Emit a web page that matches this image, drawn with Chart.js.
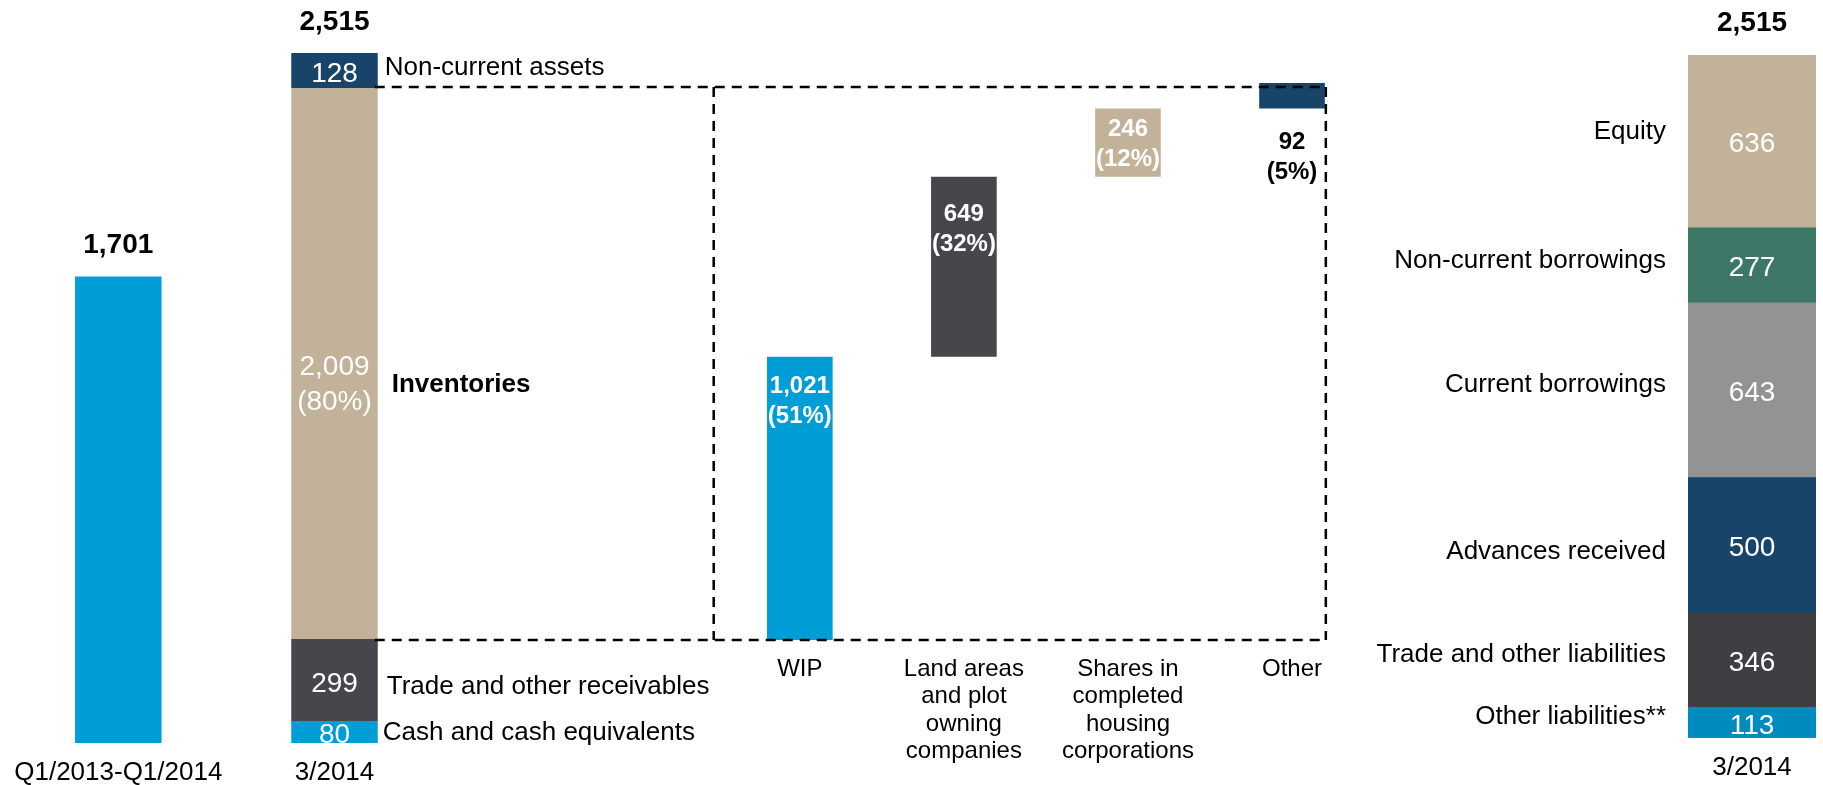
<!DOCTYPE html>
<html>
<head>
<meta charset="utf-8">
<title>Balance sheet 3/2014</title>
<script src="https://cdn.jsdelivr.net/npm/chart.js@4.4.1/dist/chart.umd.min.js"></script>
<style>
  html, body { margin: 0; padding: 0; background: #ffffff; }
  #wrap { position: relative; width: 1823px; height: 785px; overflow: hidden; }
  #wrap canvas { position: absolute; left: 0; top: 0; }
</style>
</head>
<body>
<div id="wrap">
  <canvas id="assets" width="1823" height="785"></canvas>
  <canvas id="inventory" width="1823" height="785"></canvas>
  <canvas id="liabilities" width="1823" height="785"></canvas>
</div>
<script>
// ---------- data (EUR million) ----------
const assetCategories = ['Q1/2013-Q1/2014', '3/2014'];
const periodTotal = [1701];
const assetNames = ['Cash and cash equivalents', 'Trade and other receivables', 'Inventories', 'Non-current assets'];
const assetValues = [80, 299, 2009, 128];
const assetTotal = 2515;

const inventoryCategories = [
  ['WIP'],
  ['Land areas', 'and plot', 'owning', 'companies'],
  ['Shares in', 'completed', 'housing', 'corporations'],
  ['Other']
];
const inventoryValues = [1021, 649, 246, 92];
const inventoryTotal = 2009;

const liabilityCategories = ['3/2014'];
const liabilityNames = ['Other liabilities**', 'Trade and other liabilities', 'Advances received', 'Current borrowings', 'Non-current borrowings', 'Equity'];
const liabilityValues = [113, 346, 500, 643, 277, 636];
const liabilityTotal = 2515;

// ---------- styling ----------
const FONT = '"Liberation Sans", Arial, Helvetica, sans-serif';
const COLORS = {
  blue: '#009dd6',
  tan: '#c2b299',
  navy: '#174468',
  charcoal: '#47464b',
  green: '#3c7767',
  grey: '#939395',
  deepBlue: '#008bbf',
  darkGrey: '#3f3e43'
};
const assetColors = [COLORS.blue, COLORS.charcoal, COLORS.tan, COLORS.navy];
const inventoryColors = [COLORS.blue, COLORS.charcoal, COLORS.tan, COLORS.navy];
const liabilityColors = [COLORS.deepBlue, COLORS.darkGrey, COLORS.navy, COLORS.grey, COLORS.green, COLORS.tan];

// label placement tweaks (pixels)
const assetLabelStyle = [
  { dx: 5,  dy: -1,  valueDy: 0.5, bold: false },
  { dx: 9,  dy: 5,   valueDy: 1.5, bold: false },
  { dx: 14, dy: 19,  valueDy: 18.5, bold: true },
  { dx: 7,  dy: -4.5, valueDy: 1,  bold: false }
];
const inventoryLabelStyle = [
  { mode: 'top', dy: 28, color: '#ffffff' },
  { mode: 'top', dy: 36, color: '#ffffff' },
  { mode: 'center', dy: 0, color: '#ffffff' },
  { mode: 'below', dy: 32, color: '#000000' }
];
const liabilityNameDy = [-8, -8, 4, -8, -7, -12];

const fmt = v => v.toLocaleString('en-US');
const pct = (v, total) => '(' + Math.round(v / total * 100) + '%)';

// text drawn so that y is the vertical centre of capitals / digits
function drawText(ctx, str, x, y, size, bold, color, align) {
  ctx.font = (bold ? 'bold ' : '') + size + 'px ' + FONT;
  ctx.fillStyle = color;
  ctx.textAlign = align;
  ctx.textBaseline = 'alphabetic';
  ctx.fillText(str, x, y + size * 0.358);
}

// the category axis takes the whole strip under the bars so its labels are not clipped
function chartOptions({ padding, axisHeight, yMax, yStacked, tickSize, tickLine, tickGap }) {
  return {
    responsive: false,
    animation: false,
    events: [],
    layout: { padding },
    plugins: { legend: { display: false }, tooltip: { enabled: false } },
    scales: {
      x: {
        stacked: true,
        offset: true,
        grid: { display: false, drawTicks: true, tickLength: tickGap },
        border: { display: false },
        ticks: {
          color: '#000000', padding: 0, autoSkip: false, maxRotation: 0, minRotation: 0,
          font: { family: FONT, size: tickSize, lineHeight: tickLine }
        },
        afterFit(scale) { scale.height = axisHeight; }
      },
      y: { display: false, stacked: yStacked, min: 0, max: yMax }
    }
  };
}

const sum = arr => arr.reduce((a, b) => a + b, 0);

// ---------- assets: period bar + balance sheet bar ----------
const assetLabels = {
  id: 'assetLabels',
  afterDatasetsDraw(chart) {
    const ctx = chart.ctx;
    ctx.save();
    const periodBar = chart.getDatasetMeta(0).data[0];
    drawText(ctx, fmt(periodTotal[0]), periodBar.x, periodBar.y - 34, 28, true, '#000000', 'center');

    assetValues.forEach((v, i) => {
      const el = chart.getDatasetMeta(i + 1).data[1];
      const st = assetLabelStyle[i];
      const cy = (el.y + el.base) / 2;
      const right = el.x + el.width / 2;
      const lines = assetNames[i] === 'Inventories' ? [fmt(v), pct(v, assetTotal)] : [fmt(v)];
      const gap = 35;
      lines.forEach((t, k) => {
        const y = cy + st.valueDy + (k - (lines.length - 1) / 2) * gap;
        drawText(ctx, t, el.x, y, 28, false, '#ffffff', 'center');
      });
      drawText(ctx, assetNames[i], right + st.dx, cy + st.dy, 26, st.bold, '#000000', 'left');
    });

    const topEl = chart.getDatasetMeta(assetValues.length).data[1];
    drawText(ctx, fmt(assetTotal), topEl.x, topEl.y - 33, 28, true, '#000000', 'center');
    ctx.restore();
  }
};

const assetDatasets = [{
  label: 'Q1/2013-Q1/2014',
  data: [periodTotal[0], null],
  backgroundColor: COLORS.blue,
  categoryPercentage: 1, barPercentage: 0.4
}].concat(assetNames.map((name, i) => ({
  label: name,
  data: [null, assetValues[i]],
  backgroundColor: assetColors[i],
  categoryPercentage: 1, barPercentage: 0.4
})));

const assetsChart = new Chart(document.getElementById('assets'), {
  type: 'bar',
  data: { labels: assetCategories, datasets: assetDatasets },
  options: chartOptions({
    padding: { left: 10.2, right: 1380.4, top: 53, bottom: 0 },
    axisHeight: 42,
    yMax: sum(assetValues), yStacked: true,
    tickSize: 26, tickLine: 1.15, tickGap: 15
  }),
  plugins: [assetLabels]
});

// ---------- inventory breakdown (waterfall) ----------
const inventoryRanges = [];
inventoryValues.reduce((start, v) => { inventoryRanges.push([start, start + v]); return start + v; }, 0);

const inventoryLabels = {
  id: 'inventoryLabels',
  afterDatasetsDraw(chart) {
    const ctx = chart.ctx;
    ctx.save();
    const meta = chart.getDatasetMeta(0);
    const gap = 30;
    meta.data.forEach((el, i) => {
      const v = inventoryValues[i];
      const st = inventoryLabelStyle[i];
      const top = Math.min(el.y, el.base);
      const bottom = Math.max(el.y, el.base);
      let y0;
      if (st.mode === 'top') y0 = top + st.dy;
      else if (st.mode === 'below') y0 = bottom + st.dy;
      else y0 = (top + bottom) / 2 - gap / 2;
      drawText(ctx, fmt(v), el.x, y0, 24, true, st.color, 'center');
      drawText(ctx, pct(v, inventoryTotal), el.x, y0 + gap, 24, true, st.color, 'center');
    });

    // dashed frame linking the Inventories segment to its breakdown
    const inv = assetsChart.getDatasetMeta(assetNames.indexOf('Inventories') + 1).data[1];
    const x0 = inv.x + inv.width / 2 - 3;
    const yTop = Math.min(inv.y, inv.base) - 1;
    const yBot = Math.max(inv.y, inv.base) + 1;
    const xL = chart.scales.x.getPixelForValue(-0.525);
    const last = meta.data[meta.data.length - 1];
    const xR = last.x + last.width / 2 + 1;
    ctx.strokeStyle = '#000000';
    ctx.lineWidth = 2.5;
    ctx.setLineDash([10, 7]);
    ctx.beginPath();
    ctx.moveTo(x0, yTop); ctx.lineTo(xR, yTop);
    ctx.moveTo(x0, yBot); ctx.lineTo(xR, yBot);
    ctx.moveTo(xL, yTop); ctx.lineTo(xL, yBot);
    ctx.moveTo(xR, yTop); ctx.lineTo(xR, yBot);
    ctx.stroke();
    ctx.restore();
  }
};

const inventoryChart = new Chart(document.getElementById('inventory'), {
  type: 'bar',
  data: {
    labels: inventoryCategories,
    datasets: [{
      label: 'Inventories',
      data: inventoryRanges,
      backgroundColor: inventoryColors,
      categoryPercentage: 1, barPercentage: 0.4
    }]
  },
  options: chartOptions({
    padding: { left: 717.8, right: 448.95, top: 83, bottom: 0 },
    axisHeight: 145,
    yMax: sum(inventoryValues), yStacked: false,
    tickSize: 24, tickLine: 1.146, tickGap: 15.5
  }),
  plugins: [inventoryLabels]
});

// ---------- equity and liabilities ----------
const liabilityLabels = {
  id: 'liabilityLabels',
  afterDatasetsDraw(chart) {
    const ctx = chart.ctx;
    ctx.save();
    liabilityValues.forEach((v, i) => {
      const el = chart.getDatasetMeta(i).data[0];
      const cy = (el.y + el.base) / 2;
      const left = el.x - el.width / 2;
      drawText(ctx, fmt(v), el.x, cy + 1, 28, false, '#ffffff', 'center');
      drawText(ctx, liabilityNames[i], left - 22, cy + liabilityNameDy[i], 26, false, '#000000', 'right');
    });
    const topEl = chart.getDatasetMeta(liabilityValues.length - 1).data[0];
    drawText(ctx, fmt(liabilityTotal), topEl.x, topEl.y - 34, 28, true, '#000000', 'center');
    ctx.restore();
  }
};

const liabilitiesChart = new Chart(document.getElementById('liabilities'), {
  type: 'bar',
  data: {
    labels: liabilityCategories,
    datasets: liabilityNames.map((name, i) => ({
      label: name,
      data: [liabilityValues[i]],
      backgroundColor: liabilityColors[i],
      categoryPercentage: 1, barPercentage: 1
    }))
  },
  options: chartOptions({
    padding: { left: 1688, right: 7, top: 55, bottom: 0 },
    axisHeight: 47,
    yMax: sum(liabilityValues), yStacked: true,
    tickSize: 26, tickLine: 1.15, tickGap: 15
  }),
  plugins: [liabilityLabels]
});
</script>
</body>
</html>
